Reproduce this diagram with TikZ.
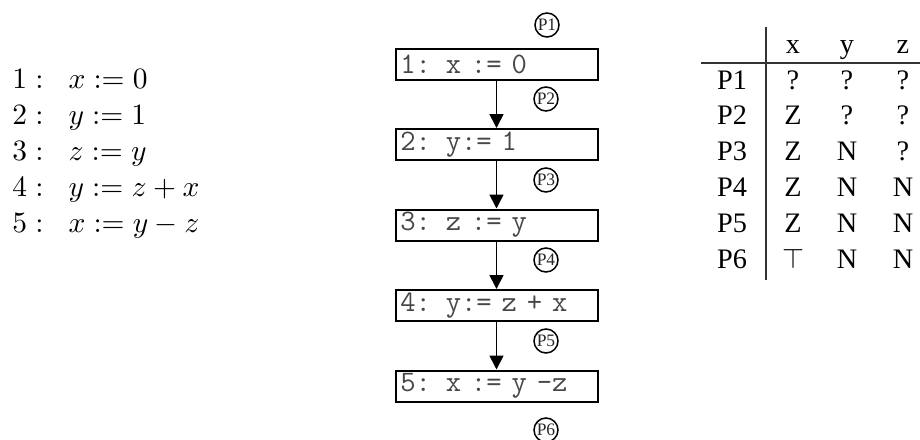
\RequirePackage{fix-cm}
\documentclass[tikz,border=0pt]{standalone}
\usepackage{fontspec}
\newfontfamily\tabfont{Liberation Serif}
\usetikzlibrary{arrows.meta}
\begin{document}
\begin{tikzpicture}[x=0.4pt,y=-0.4pt,
  stmt/.style={draw, line width=0.8pt, minimum width=80.8pt, minimum height=12.4pt,
    text width=77pt, inner xsep=1.9pt, inner ysep=0pt, align=left,
    font=\ttfamily\fontsize{11.9}{13}\selectfont, text=black!72},
  ppt/.style={circle, draw, line width=0.6pt, inner sep=0pt, minimum size=9.6pt,
    font=\tabfont\fontsize{7}{8}\selectfont, text=black!85},
  flow/.style={line width=0.7pt, -{Triangle[width=5.6pt,length=5.6pt]}},
  lst/.style={anchor=base west, inner sep=0pt, font=\fontsize{11.8}{14}\selectfont},
  cell/.style={anchor=base, inner sep=0pt, font=\tabfont\fontsize{11.3}{13}\selectfont},
  rule/.style={line width=0.5pt, black!80}]
\useasboundingbox (0,0) rectangle (920,440);

% left listing
\node[lst] (n1) at (12,88) {$1:$};   \node[lst] (e1) at (68,88) {$x := 0$};
\node[lst] (n2) at (12,124) {$2:$};  \node[lst] (e2) at (68,124) {$y := 1$};
\node[lst] (n3) at (12,160) {$3:$};  \node[lst] (e3) at (68,160) {$z := y$};
\node[lst] (n4) at (12,196) {$4:$};  \node[lst] (e4) at (68,196) {$y := z + x$};
\node[lst] (n5) at (12,232) {$5:$};  \node[lst] (e5) at (68,232) {$x := y - z$};

% flow graph
\node[stmt] (s1) at (496.5,64) {1: x := 0};
\node[stmt] (s2) at (496.5,144.5) {2: y:= 1};
\node[stmt] (s3) at (496.5,225) {3: z := y};
\node[stmt] (s4) at (496.5,305.5) {4: y:= z + x};
\node[stmt] (s5) at (496.5,386) {5: x := y -z};
\draw[flow] (s1) -- (s2);
\draw[flow] (s2) -- (s3);
\draw[flow] (s3) -- (s4);
\draw[flow] (s4) -- (s5);

\node[ppt] (p1) at (547,25) {P1};
\node[ppt] (p2) at (546,99) {P2};
\node[ppt] (p3) at (546,180) {P3};
\node[ppt] (p4) at (546,260) {P4};
\node[ppt] (p5) at (546,341) {P5};
\node[ppt] (p6) at (546,430) {P6};

% table
\coordinate (vt) at (766,27);
\coordinate (vb) at (766,280);
\coordinate (hl) at (701,63);
\coordinate (hr) at (920,63);
\draw[rule] (vt) -- (vb);
\draw[rule] (hl) -- (hr);

\node[cell] (hx) at (793,53) {x};
\node[cell] (hy) at (847,53) {y};
\node[cell] (hz) at (903,53) {z};

\node[cell] (r1) at (732,89) {P1};
\node[cell] (r1x) at (793,89) {?};
\node[cell] (r1y) at (847,89) {?};
\node[cell] (r1z) at (903,89) {?};

\node[cell] (r2) at (732,124) {P2};
\node[cell] (r2x) at (793,124) {Z};
\node[cell] (r2y) at (847,124) {?};
\node[cell] (r2z) at (903,124) {?};

\node[cell] (r3) at (732,160) {P3};
\node[cell] (r3x) at (793,160) {Z};
\node[cell] (r3y) at (847,160) {N};
\node[cell] (r3z) at (903,160) {?};

\node[cell] (r4) at (732,196) {P4};
\node[cell] (r4x) at (793,196) {Z};
\node[cell] (r4y) at (847,196) {N};
\node[cell] (r4z) at (903,196) {N};

\node[cell] (r5) at (732,232) {P5};
\node[cell] (r5x) at (793,232) {Z};
\node[cell] (r5y) at (847,232) {N};
\node[cell] (r5z) at (903,232) {N};

\node[cell] (r6) at (732,268) {P6};
\node[cell] (r6x) at (793,268) {$\top$};
\node[cell] (r6y) at (847,268) {N};
\node[cell] (r6z) at (903,268) {N};
\end{tikzpicture}
\end{document}
